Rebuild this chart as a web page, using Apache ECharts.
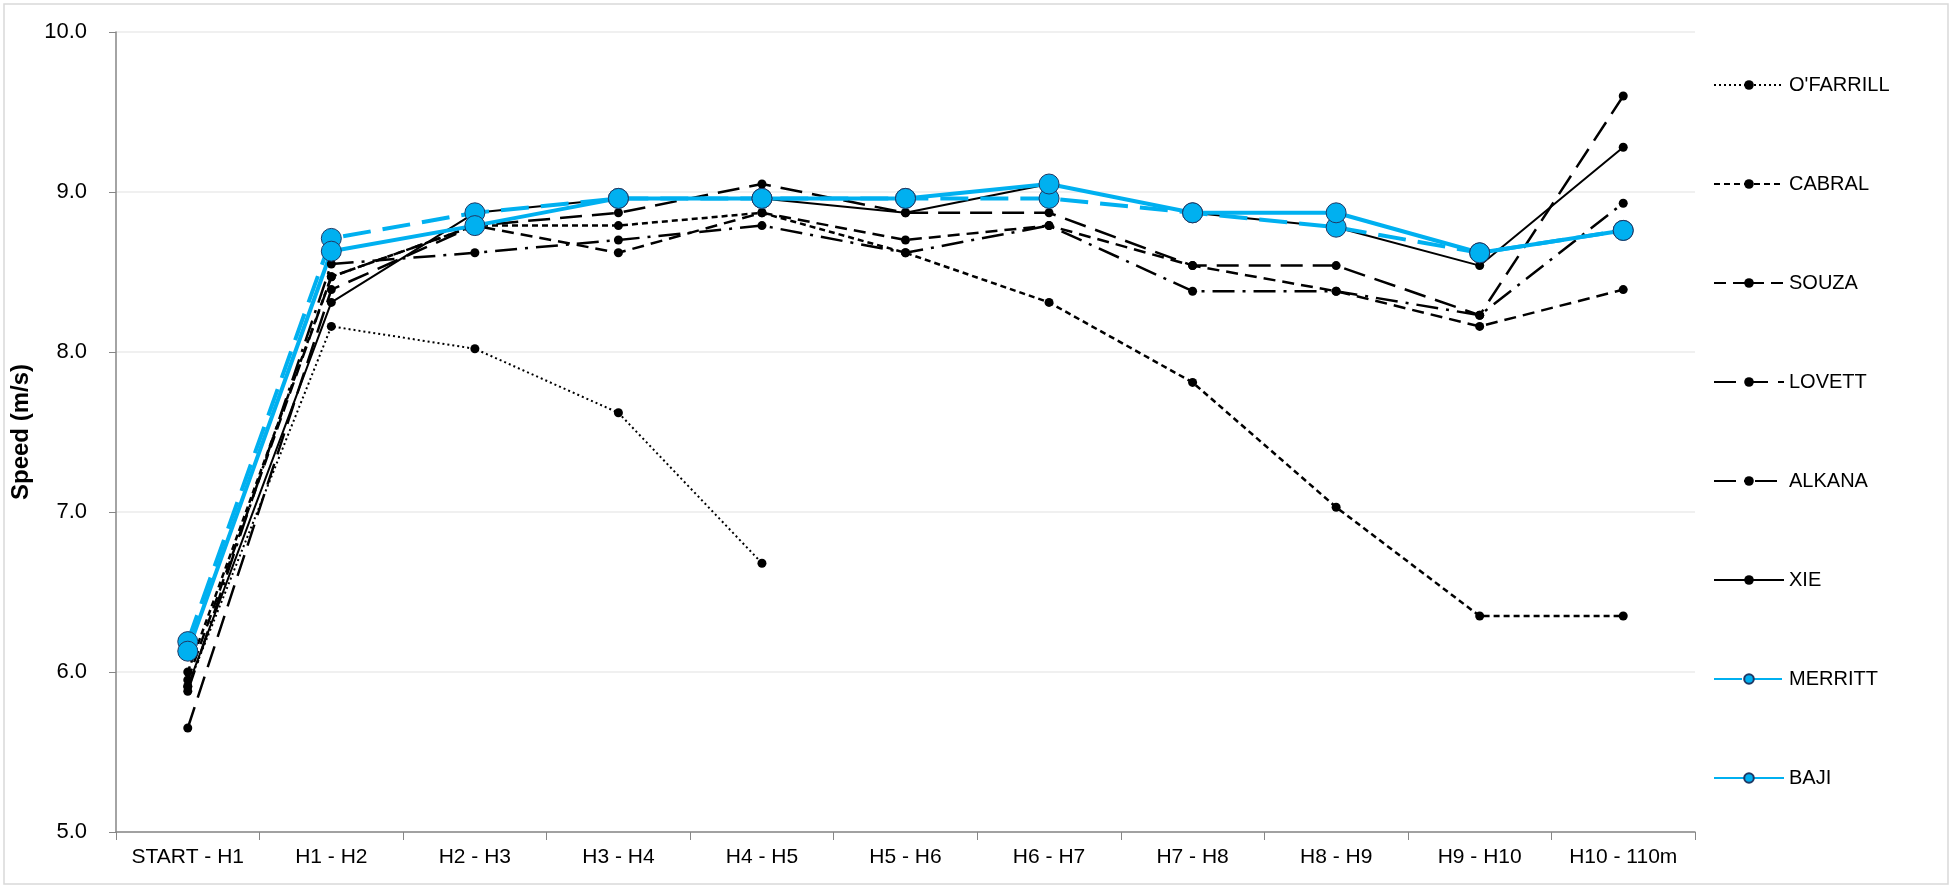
<!DOCTYPE html>
<html>
<head>
<meta charset="utf-8">
<script src="https://cdn.jsdelivr.net/npm/echarts@6/dist/echarts.min.js"></script>
<style>
html,body{margin:0;padding:0;background:#fff;}
#chart{width:1955px;height:889px;}
</style>
</head>
<body>
<div id="chart"></div>
<script>
const categories = ['START - H1','H1 - H2','H2 - H3','H3 - H4','H4 - H5','H5 - H6','H6 - H7','H7 - H8','H8 - H9','H9 - H10','H10 - 110m'];
const yTicks = [5, 6, 7, 8, 9, 10];
const ofarrill = [5.91, 8.16, 8.02, 7.62, 6.68, null, null, null, null, null, null];
const cabral   = [6.00, 8.47, 8.79, 8.79, 8.87, 8.62, 8.31, 7.81, 7.03, 6.35, 6.35];
const souza    = [5.95, 8.47, 8.79, 8.62, 8.87, 8.70, 8.79, 8.54, 8.38, 8.16, 8.39];
const lovett   = [5.65, 8.39, 8.79, 8.87, 9.05, 8.87, 8.87, 8.54, 8.54, 8.23, 9.60];
const alkana   = [5.88, 8.55, 8.62, 8.70, 8.79, 8.62, 8.79, 8.38, 8.38, 8.23, 8.93];
const xie      = [5.91, 8.31, 8.87, 8.96, 8.96, 8.87, 9.05, 8.87, 8.78, 8.54, 9.28];
const merritt  = [6.19, 8.71, 8.87, 8.96, 8.96, 8.96, 8.96, 8.87, 8.78, 8.62, 8.76];
const baji     = [6.13, 8.63, 8.79, 8.96, 8.96, 8.96, 9.05, 8.87, 8.87, 8.62, 8.76];

const FONT = '"Liberation Sans", Arial, sans-serif';
const BLUE = '#00B0F0';

function blackSeries(name, data, dash, width) {
  return {
    name, type: 'line', data,
    symbol: 'circle', symbolSize: 9,
    itemStyle: { color: '#000' },
    lineStyle: { color: '#000', width: width, type: dash },
    connectNulls: false,
    animation: false
  };
}
function blueSeries(name, data, dash) {
  return {
    name, type: 'line', data,
    symbol: 'circle', symbolSize: 20,
    itemStyle: { color: BLUE, borderColor: '#1F3864', borderWidth: 1 },
    lineStyle: { color: BLUE, width: 4, type: dash },
    animation: false
  };
}

const series = [
  blackSeries("O'FARRILL", ofarrill, [2, 3], 2),
  blackSeries('CABRAL', cabral, [6, 4], 2.5),
  blackSeries('SOUZA', souza, [12, 7], 2.5),
  blackSeries('LOVETT', lovett, [22, 10], 2.5),
  blackSeries('ALKANA', alkana, [22, 8, 3, 8], 2.5),
  blackSeries('XIE', xie, 'solid', 2),
  blueSeries('MERRITT', merritt, [28, 12]),
  blueSeries('BAJI', baji, 'solid')
];

const chart = echarts.init(document.getElementById('chart'), null, { renderer: 'canvas' });
chart.setOption({
  backgroundColor: '#fff',
  animation: false,
  graphic: [{
    type: 'rect', silent: true, z: -1,
    shape: { x: 4, y: 4, width: 1944, height: 880 },
    style: { fill: 'none', stroke: '#d9d9d9', lineWidth: 1.5 }
  }],
  grid: { left: 116, right: 260, top: 32, bottom: 57, containLabel: false, outerBoundsMode: 'none' },
  legend: {
    orient: 'vertical',
    left: 1708, top: 70,
    itemWidth: 70, itemHeight: 12, itemGap: 79,
    textStyle: { fontFamily: FONT, fontSize: 20, color: '#000' },
    data: series.map(s => s.name)
  },
  xAxis: {
    type: 'category', data: categories, boundaryGap: true,
    axisLine: { lineStyle: { color: '#868686', width: 1.5 } },
    axisTick: { show: true, alignWithLabel: false, length: 8, lineStyle: { color: '#868686' } },
    axisLabel: { fontFamily: FONT, fontSize: 21, color: '#000', margin: 15, interval: 0 },
    splitLine: { show: false }
  },
  yAxis: {
    type: 'value', min: yTicks[0], max: yTicks[yTicks.length - 1], interval: 1,
    name: 'Speed (m/s)', nameLocation: 'middle', nameRotate: 90, nameGap: 79,
    nameTextStyle: { fontFamily: '"Liberation Sans Narrow", "Liberation Sans", Arial, sans-serif', fontSize: 24, fontWeight: 'bold', color: '#000' },
    axisLine: { show: true, lineStyle: { color: '#868686', width: 1.5 } },
    axisTick: { show: true, inside: false, length: 7, lineStyle: { color: '#868686' } },
    axisLabel: { fontFamily: FONT, fontSize: 22, color: '#000', margin: 29, formatter: v => v.toFixed(1) },
    splitLine: { show: true, lineStyle: { color: '#ebebeb', width: 1.5 } }
  },
  series
});
</script>
</body>
</html>
